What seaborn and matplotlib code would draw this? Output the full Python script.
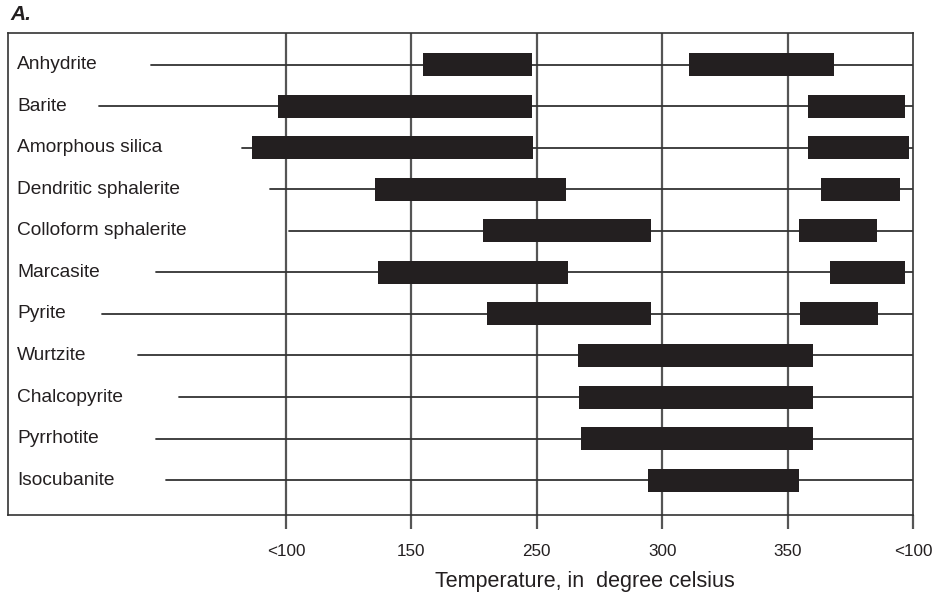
import matplotlib
matplotlib.use("Agg")
import matplotlib.pyplot as plt
import seaborn as sns
import pandas as pd
import numpy as np

minerals = ["Anhydrite", "Barite", "Amorphous silica", "Dendritic sphalerite",
            "Colloform sphalerite", "Marcasite", "Pyrite", "Wurtzite",
            "Chalcopyrite", "Pyrrhotite", "Isocubanite"]
# start of thin guide line (axis units; ticks at 0..5)
line_start = [-1.08, -1.49, -0.35, -0.13, 0.02, -1.04, -1.47, -1.18, -0.85, -1.04, -0.96]
# first range bar
bar1_start = [1.09, -0.06, -0.27, 0.71, 1.57, 0.73, 1.60, 2.33, 2.34, 2.35, 2.89]
bar1_end   = [1.96, 1.96, 1.97, 2.23, 2.91, 2.25, 2.91, 4.20, 4.20, 4.20, 4.09]
# second range bar (NaN = none)
bar2_start = [3.21, 4.16, 4.16, 4.27, 4.09, 4.34, 4.10, np.nan, np.nan, np.nan, np.nan]
bar2_end   = [4.37, 4.94, 4.97, 4.90, 4.71, 4.94, 4.72, np.nan, np.nan, np.nan, np.nan]
tick_labels = ["<100", "150", "250", "300", "350", "<100"]
x_label = "Temperature, in  degree celsius"

sns.set_theme(style="white")
plt.rcParams["font.family"] = ["Liberation Sans Narrow", "Liberation Sans", "DejaVu Sans"]

fig = plt.figure(figsize=(9.32, 6.0), dpi=100)
ax = fig.add_axes([8/932, 1-515/600, (913-8)/932, (515-33)/600])

rows = np.arange(len(minerals))
xmax = 5.0

# thin guide lines
lines = pd.DataFrame({
    "seg": np.repeat(minerals, 2),
    "x": np.ravel(np.column_stack([line_start, [xmax]*len(minerals)])),
    "y": np.repeat(rows, 2),
})
sns.lineplot(data=lines, x="x", y="y", units="seg", estimator=None, sort=False,
             color="#333333", lw=1.3, ax=ax, legend=False, zorder=2)

bars = pd.DataFrame({"mineral": minerals, "row": rows,
                     "s1": bar1_start, "e1": bar1_end,
                     "s2": bar2_start, "e2": bar2_end})
bar_h = 23/41.57
ax.barh(bars["row"], bars["e1"] - bars["s1"], left=bars["s1"], height=bar_h,
        color="#231f20", edgecolor="none", linewidth=0, zorder=3)
b2 = bars.dropna()
ax.barh(b2["row"], b2["e2"] - b2["s2"], left=b2["s2"], height=bar_h,
        color="#231f20", edgecolor="none", linewidth=0, zorder=3)

# vertical grid lines
for t in range(0, 5):
    ax.axvline(t, color="#555555", lw=1.6, zorder=1)

for r, name in zip(rows, minerals):
    ax.text(-2.217 + 9/125.4, r, name, ha="left", va="center", fontsize=13.8,
            color="#231f20")

ax.set_xlim(-2.217, xmax)
ax.set_ylim(10.837, -0.758)
ax.set_xticks(range(6))
ax.set_xticklabels(tick_labels, fontsize=12.3, color="#231f20")
ax.set_yticks([])
ax.tick_params(axis="x", direction="out", length=10, width=1.6, color="#555555",
               pad=11, bottom=True)
ax.set_xlabel("")
ax.set_ylabel("")
for s in ax.spines.values():
    s.set_color("#333333")
    s.set_linewidth(1.2)

fig.text(585/932, 1-581/600, x_label, ha="center", va="center", fontsize=15.5,
         color="#231f20")
fig.text(10/932, 1-15/600, "A.", ha="left", va="center", fontsize=15,
         fontweight="bold", fontstyle="italic", color="#231f20",
         family=["Liberation Sans", "DejaVu Sans"])

fig.savefig("out.png", dpi=100)
